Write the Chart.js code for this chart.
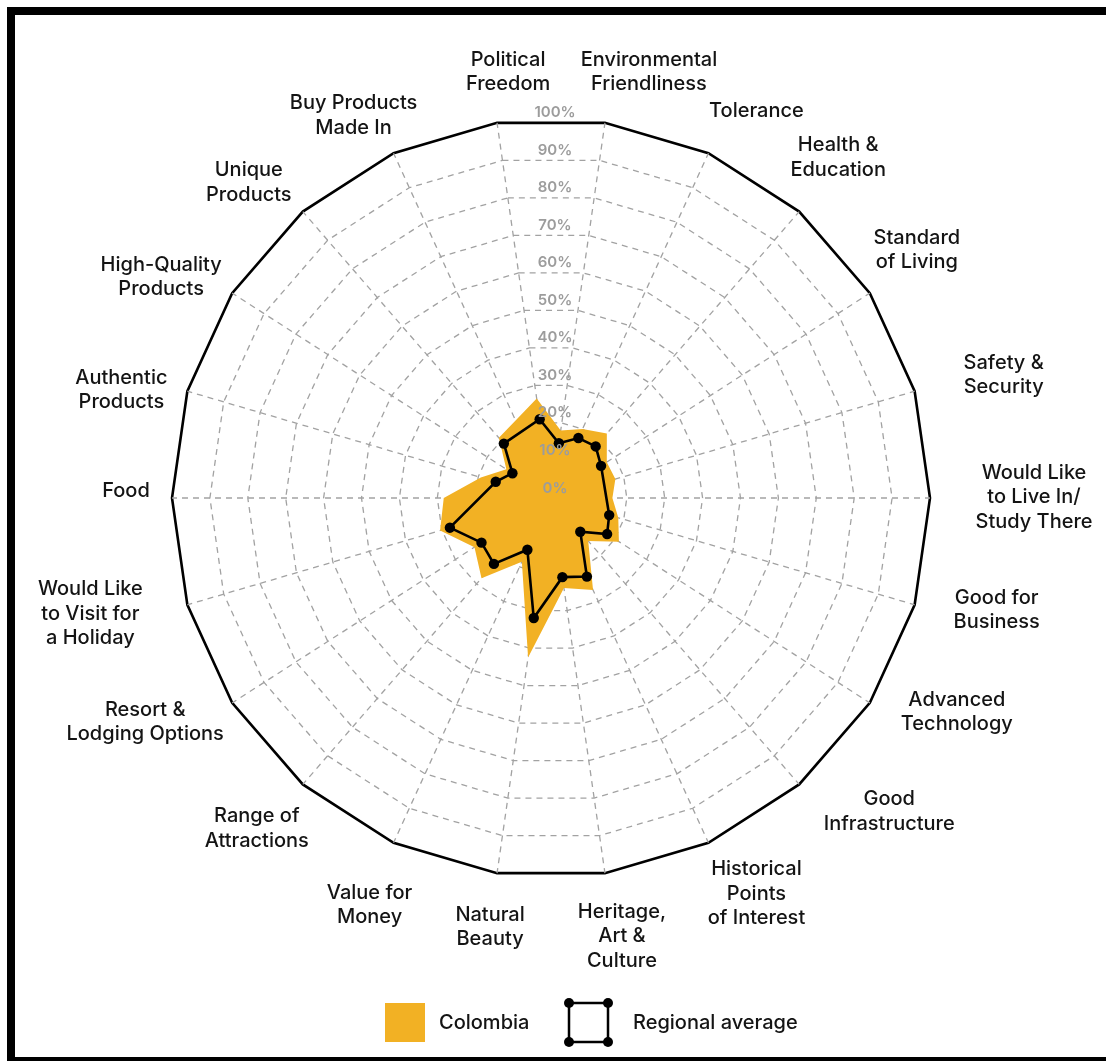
<!DOCTYPE html>
<html>
<head>
<meta charset="utf-8">
<title>Colombia – nation brand perception</title>
<script src="https://cdn.jsdelivr.net/npm/chart.js@4/dist/chart.umd.min.js"></script>
<style>
  html, body { margin: 0; padding: 0; background: #fff; overflow: hidden; }
  .frame { position: absolute; left: 7px; top: 7px; width: 1200px; height: 1042px; border: 8px solid #000; }
  #chart { position: absolute; left: 0; top: 0; }
</style>
</head>
<body>
<div class="frame"></div>
<canvas id="chart" width="1106" height="1061"></canvas>
<script>
// Attributes, clockwise starting just left of the top
const categories = [
  ['Political', 'Freedom'],
  ['Environmental', 'Friendliness'],
  ['Tolerance'],
  ['Health &', 'Education'],
  ['Standard', 'of Living'],
  ['Safety &', 'Security'],
  ['Would Like', 'to Live In/', 'Study There'],
  ['Good for', 'Business'],
  ['Advanced', 'Technology'],
  ['Good', 'Infrastructure'],
  ['Historical', 'Points', 'of Interest'],
  ['Heritage,', 'Art &', 'Culture'],
  ['Natural', 'Beauty'],
  ['Value for', 'Money'],
  ['Range of', 'Attractions'],
  ['Resort &', 'Lodging Options'],
  ['Would Like', 'to Visit for', 'a Holiday'],
  ['Food'],
  ['Authentic', 'Products'],
  ['High-Quality', 'Products'],
  ['Unique', 'Products'],
  ['Buy Products', 'Made In']
];

// % of respondents
const colombia = [26.5, 18, 20, 22.5, 17.5, 17.7, 16.2, 18.5, 21.3, 15, 26.7,
                  24, 42.5, 18.5, 28, 24, 30.5, 28.3, 19.3, 14, 21, 22.5];

// no regional figure for some attributes, the line just skips them
const regionalAverage = [21, 14.6, 17.4, 18, 15.7, null, null, 16, 17.6, 11.8, 22.8,
                         21.1, 32, 15, 23, 21.8, 27.8, null, 15.2, 12.1, 19, null];

const tickValues = [0, 10, 20, 30, 40, 50, 60, 70, 80, 90, 100];

const ORANGE = '#f2b124';
const GRID = '#a2a2a2';
const INK = '#141414';
const FONT = 'Inter, "Noto Sans", sans-serif';

// where each axis name sits, relative to the tip of its spoke
const labelOffsets = [
  [11, -51], [44, -51], [48, -42], [39, -54], [47, -43], [89, -16],
  [104, -1], [82, 5], [87, 9], [90, 27], [48, 51], [17, 63],
  [-7, 54], [-24, 62], [-46, 44], [-87, 19], [-97, 9], [-46, -7],
  [-66, -1], [-71, -16], [-54, -29], [-40, -38]
];

// upright % ticks, axis names and the legend underneath
const radarText = {
  id: 'radarText',
  afterDatasetsDraw(chart) {
    const r = chart.scales.r;
    const ctx = chart.ctx;
    ctx.save();
    ctx.textAlign = 'center';
    ctx.textBaseline = 'middle';

    ctx.font = '600 15px ' + FONT;
    ctx.fillStyle = '#9c9c9c';
    const half = Math.PI / categories.length;
    tickValues.forEach(v => {
      const d = r.getDistanceFromCenterForValue(v) * Math.cos(half);
      ctx.fillText(v + '%', r.xCenter + 4, r.yCenter - d - 10);
    });

    ctx.font = '500 20px ' + FONT;
    ctx.fillStyle = INK;
    const lineH = 24.5;
    categories.forEach((lines, i) => {
      const p = r.getPointPosition(i, r.drawingArea);
      const cx = p.x + labelOffsets[i][0];
      const cy = p.y + labelOffsets[i][1];
      lines.forEach((t, k) => {
        ctx.fillText(t, cx, cy + (k - (lines.length - 1) / 2) * lineH);
      });
    });
    ctx.restore();
  },
  afterDraw(chart) {
    const r = chart.scales.r;
    const ctx = chart.ctx;
    const x0 = r.xCenter - 166;
    const y0 = chart.height - 58;
    const size = 39;
    ctx.save();
    ctx.textAlign = 'left';
    ctx.textBaseline = 'middle';
    ctx.font = '500 20px ' + FONT;

    const col = chart.data.datasets[1];
    ctx.fillStyle = col.backgroundColor;
    ctx.fillRect(x0, y0, 40, size);
    ctx.fillStyle = INK;
    ctx.fillText(col.label, x0 + 54, y0 + size / 2);

    const reg = chart.data.datasets[0];
    const bx = x0 + 184;
    ctx.strokeStyle = '#000';
    ctx.lineWidth = 2.5;
    ctx.strokeRect(bx, y0, size, size);
    ctx.fillStyle = '#000';
    [[bx, y0], [bx + size, y0], [bx, y0 + size], [bx + size, y0 + size]].forEach(([x, y]) => {
      ctx.beginPath();
      ctx.arc(x, y, 5, 0, Math.PI * 2);
      ctx.fill();
    });
    ctx.fillStyle = INK;
    ctx.fillText(reg.label, bx + 64, y0 + size / 2);
    ctx.restore();
  }
};

new Chart(document.getElementById('chart'), {
  type: 'radar',
  data: {
    labels: categories,
    datasets: [
      {
        label: 'Regional average',
        data: regionalAverage,
        order: 0,
        fill: false,
        spanGaps: true,
        borderColor: '#000',
        borderWidth: 2.6,
        pointRadius: 5.2,
        pointBackgroundColor: '#000',
        pointBorderWidth: 0
      },
      {
        label: 'Colombia',
        data: colombia,
        order: 1,
        fill: true,
        backgroundColor: ORANGE,
        borderColor: ORANGE,
        borderWidth: 0,
        pointRadius: 0
      }
    ]
  },
  options: {
    responsive: false,
    animation: false,
    layout: { padding: { left: 172, right: 176, top: 119, bottom: 184 } },
    plugins: { legend: { display: false }, tooltip: { enabled: false } },
    scales: {
      r: {
        min: 0,
        max: 100,
        startAngle: -180 / categories.length,
        ticks: { display: false, stepSize: 10 },
        pointLabels: { display: false },
        grid: {
          color: c => (c.tick && c.tick.value === 100 ? '#000' : GRID),
          lineWidth: c => (c.tick && c.tick.value === 100 ? 2.6 : 1.3)
        },
        border: { dash: c => (c.tick && c.tick.value === 100 ? [] : [6, 5]) },
        angleLines: { color: GRID, lineWidth: 1.3, borderDash: [6, 5] }
      }
    }
  },
  plugins: [radarText]
});
</script>
</body>
</html>
